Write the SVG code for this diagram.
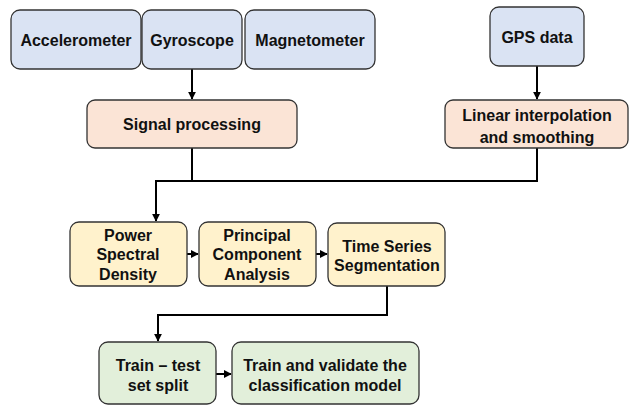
<svg xmlns="http://www.w3.org/2000/svg" width="630" height="405" viewBox="0 0 630 405">
<style>
.n rect{stroke:#333;stroke-width:1.3}
.b{fill:#dae3f3}.o{fill:#fbe4d6}.y{fill:#fff2cc}.g{fill:#e2efda}
text{font-family:"Liberation Sans",Arial,sans-serif;font-weight:bold;font-size:16px;fill:#111;text-anchor:middle}
.c path{fill:none;stroke:#000;stroke-width:2}
</style>
<defs><marker id="a" viewBox="0 0 10 10" refX="9" refY="5" markerWidth="4" markerHeight="4" orient="auto" markerUnits="strokeWidth"><path d="M0,0L10,5L0,10z" fill="#000"/></marker></defs>
<g class="c">
<path d="M192,69V99" marker-end="url(#a)"/>
<path d="M537,66V99" marker-end="url(#a)"/>
<path d="M192,148V181"/>
<path d="M537,148V181H156V221" marker-end="url(#a)"/>
<path d="M187,254H198" marker-end="url(#a)"/>
<path d="M316,254H327" marker-end="url(#a)"/>
<path d="M387,286V315H158V341" marker-end="url(#a)"/>
<path d="M216,374H231" marker-end="url(#a)"/>
</g>
<g class="n">
<g id="accelerometer"><rect class="b" x="11" y="10" width="130" height="59" rx="9"/><text x="76" y="46">Accelerometer</text></g>
<g id="gyroscope"><rect class="b" x="142" y="10" width="100" height="59" rx="9"/><text x="192" y="46">Gyroscope</text></g>
<g id="magnetometer"><rect class="b" x="245" y="10" width="130" height="59" rx="9"/><text x="310" y="46">Magnetometer</text></g>
<g id="gps"><rect class="b" x="490" y="7" width="94" height="59" rx="9"/><text x="537" y="43">GPS data</text></g>
<g id="signal"><rect class="o" x="87" y="100" width="210" height="48" rx="8"/><text x="192" y="130">Signal processing</text></g>
<g id="interp"><rect class="o" x="445" y="100" width="183" height="48" rx="8"/><text x="537" y="121">Linear interpolation</text><text x="537" y="143">and smoothing</text></g>
<g id="psd"><rect class="y" x="70" y="222" width="117" height="64" rx="9"/><text x="128" y="241">Power</text><text x="128" y="260">Spectral</text><text x="128" y="280">Density</text></g>
<g id="pca"><rect class="y" x="199" y="222" width="117" height="64" rx="9"/><text x="257" y="241">Principal</text><text x="257" y="260">Component</text><text x="257" y="280">Analysis</text></g>
<g id="tss"><rect class="y" x="328" y="223" width="117" height="63" rx="9"/><text x="387" y="252">Time Series</text><text x="387" y="271">Segmentation</text></g>
<g id="split"><rect class="g" x="99" y="342" width="117" height="62" rx="9"/><text x="158" y="371">Train – test</text><text x="158" y="391">set split</text></g>
<g id="model"><rect class="g" x="232" y="342" width="187" height="62" rx="9"/><text x="325" y="371">Train and validate the</text><text x="325" y="391">classification model</text></g>
</g>
</svg>
